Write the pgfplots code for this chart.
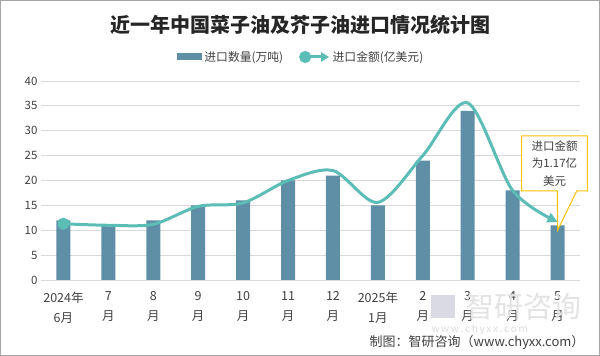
\documentclass[border=0pt]{standalone}
\usepackage{pgfplots}
\pgfplotsset{compat=1.18}
\usepackage{fontspec}
\setmainfont{Noto Sans CJK SC}
\usetikzlibrary{arrows.meta}
\definecolor{barc}{HTML}{5E8FA7}
\definecolor{linec}{HTML}{5BBDB5}
\definecolor{txt}{HTML}{404040}
\definecolor{gridc}{HTML}{D9D9D9}
\definecolor{callc}{HTML}{FFC000}
\begin{document}
\begin{tikzpicture}[x=1pt,y=1pt]
\path[use as bounding box] (0pt,0pt) rectangle (600pt,356pt);
\draw[gray!70, line width=1.2pt] (0.6pt,0.6pt) rectangle (599.4pt,355.4pt);
\node[font=\fontsize{20}{22}\selectfont\bfseries, text=black!85] at (300pt,331pt) {近一年中国菜子油及芥子油进口情况统计图};
\begin{axis}[
  at={(41pt,76pt)}, anchor=south west, scale only axis,
  width=539pt, height=199pt,
  xmin=-0.5, xmax=11.5, ymin=0, ymax=40,
  ytick={0,5,...,40},
  xtick={0,...,11},
  xticklabels={{2024年\\6月},{7\\月},{8\\月},{9\\月},{10\\月},{11\\月},{12\\月},{2025年\\1月},{2\\月},{3\\月},{4\\月},{5\\月}},
  xticklabel style={align=center, font=\fontsize{12.5}{20}\selectfont, text=txt, yshift=-8pt},
  yticklabel style={font=\fontsize{11.5}{13}\selectfont, text=txt},
  /pgf/number format/assume math mode=true,
  axis line style={draw=none},
  tick style={draw=none},
  ymajorgrids, grid style={gridc, line width=0.8pt},
  clip=false,
  legend columns=2,
  legend style={at={(0.483,1.1206)}, anchor=center, draw=none, fill=none,
    font=\fontsize{11.8}{13}\selectfont, text=txt,
    /tikz/every even column/.append style={column sep=14pt}},
]
\addplot[ybar, bar width=14pt, fill=barc, draw=none,
  legend image code/.code={\fill[barc] (0pt,-3.5pt) rectangle (25pt,3.5pt);}]
  coordinates {(0,12) (1,11) (2,12) (3,15) (4,16) (5,20) (6,21) (7,15) (8,24) (9,34) (10,18) (11,11)};
\addlegendentry{进口数量(万吨)}
\addplot[linec, line width=3pt, smooth, -{Triangle[length=10pt,width=10pt]},
  mark=*, mark indices={1}, mark size=4.5pt, mark options={fill=linec, draw=none},
  legend image code/.code={\draw[linec, line width=3pt, -{Triangle[length=8pt,width=9pt]}] (0pt,0pt) -- (24pt,0pt); \fill[linec] (0pt,0pt) circle (4.5pt);}]
  coordinates {(0,11.3) (1,11.0) (2,11.2) (3,14.8) (4,15.5) (5,20.0) (6,22.0) (7,15.6) (8,25.0) (9,35.6) (10,18.0) (11,11.7)};
\addlegendentry{进口金额(亿美元)}
\end{axis}
% callout
\draw[callc, line width=1pt, fill=white] (521.7pt,220pt) -- (587.3pt,220pt) -- (587.3pt,165pt) -- (576.7pt,165pt) -- (557.7pt,126pt) -- (557.3pt,165pt) -- (521.7pt,165pt) -- cycle;
\node[align=center, font=\fontsize{11.5}{17.5}\selectfont, text=txt] at (554.5pt,192.5pt) {进口金额\\为1.17亿\\美元};
% watermark
\node[font=\fontsize{29}{30}\selectfont, text=gray!22, anchor=west] at (462pt,49pt) {智研咨询};
\fill[blue!15!gray!25] (431pt,38pt) rectangle (455pt,61pt);
\node[font=\fontsize{10}{11}\selectfont, text=gray!28, anchor=west] at (428pt,26pt) {w\,w\,w\,.\,c\,h\,y\,x\,x\,.\,c\,o\,m};
% footer
\node[font=\fontsize{13}{14}\selectfont, text=txt, anchor=east] at (588pt,13.3pt) {制图：智研咨询（www.chyxx.com）};
\end{tikzpicture}
\end{document}
